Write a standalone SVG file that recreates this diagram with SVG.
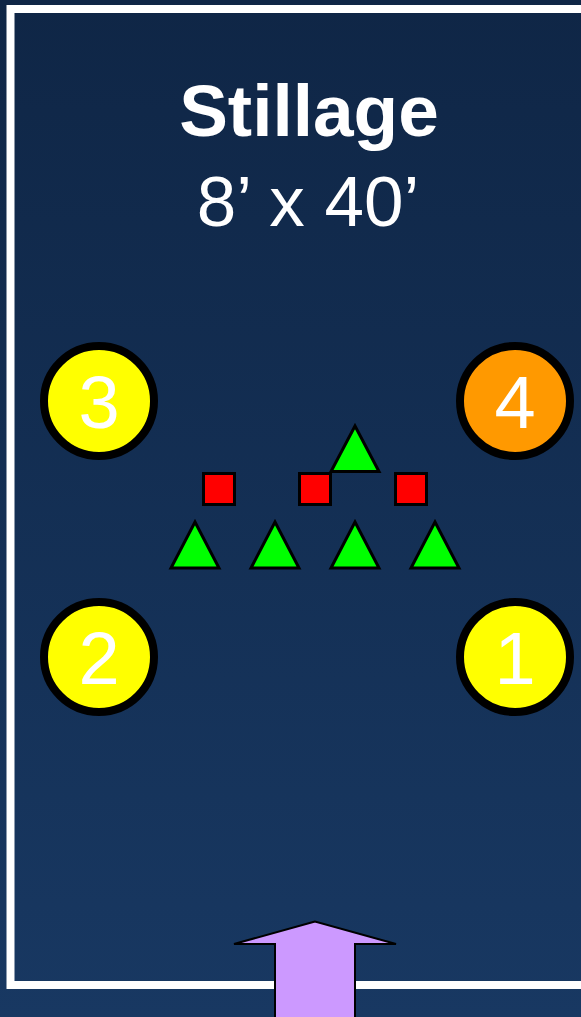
<svg xmlns="http://www.w3.org/2000/svg" width="581" height="1017" viewBox="0 0 581 1017">
  <defs>
    <linearGradient id="bg" x1="0" y1="0" x2="0" y2="1">
      <stop offset="0" stop-color="#0F2646"/>
      <stop offset="1" stop-color="#183862"/>
    </linearGradient>
  </defs>
  <style>
    .num { font-family: "Liberation Sans", Arial, sans-serif; font-size: 74px; fill: #FFFFFF; text-anchor: middle; }
    .pos { stroke: #000000; stroke-width: 8; }
    .yel { fill: #FFFF00; }
    .org { fill: #FF9900; }
    .sq { fill: #FF0000; stroke: #000000; stroke-width: 3; }
    .tri { fill: #00FF00; stroke: #000000; stroke-width: 3; stroke-linejoin: miter; }
    .title { font-family: "Liberation Sans", Arial, sans-serif; fill: #FFFFFF; text-anchor: middle; }
  </style>
  <rect x="0" y="0" width="581" height="1017" fill="url(#bg)"/>
  <path id="border" d="M 590 9 H 10.5 V 985 H 590" fill="none" stroke="#FFFFFF" stroke-width="8"/>
  <g id="title">
    <text class="title" x="309" y="136" font-size="73" font-weight="bold">Stillage</text>
    <text class="title" x="308" y="226" font-size="71">8’ x 40’</text>
  </g>
  <g id="pos3"><circle class="pos yel" cx="99" cy="401" r="55"/><text class="num" x="99" y="428">3</text></g>
  <g id="pos4"><circle class="pos org" cx="515" cy="401" r="55"/><text class="num" x="515" y="428">4</text></g>
  <g id="pos2"><circle class="pos yel" cx="99" cy="657" r="55"/><text class="num" x="99" y="684">2</text></g>
  <g id="pos1"><circle class="pos yel" cx="515" cy="657" r="55"/><text class="num" x="515" y="684">1</text></g>
  <g id="squares">
    <rect class="sq" x="203.5" y="473.5" width="31" height="31"/>
    <rect class="sq" x="299.5" y="473.5" width="31" height="31"/>
    <rect class="sq" x="395.5" y="473.5" width="31" height="31"/>
  </g>
  <g id="triangles">
    <polygon class="tri" points="355,426 379,471.5 331,471.5"/>
    <polygon class="tri" points="195,522 219,568 171,568"/>
    <polygon class="tri" points="275,522 299,568 251,568"/>
    <polygon class="tri" points="355,522 379,568 331,568"/>
    <polygon class="tri" points="435,522 459,568 411,568"/>
  </g>
  <g id="arrow">
    <polygon points="315,921.5 234,944 275,944 275,1022 355,1022 355,944 396,944" fill="#CC99FF" stroke="#000000" stroke-width="2"/>
  </g>
</svg>
